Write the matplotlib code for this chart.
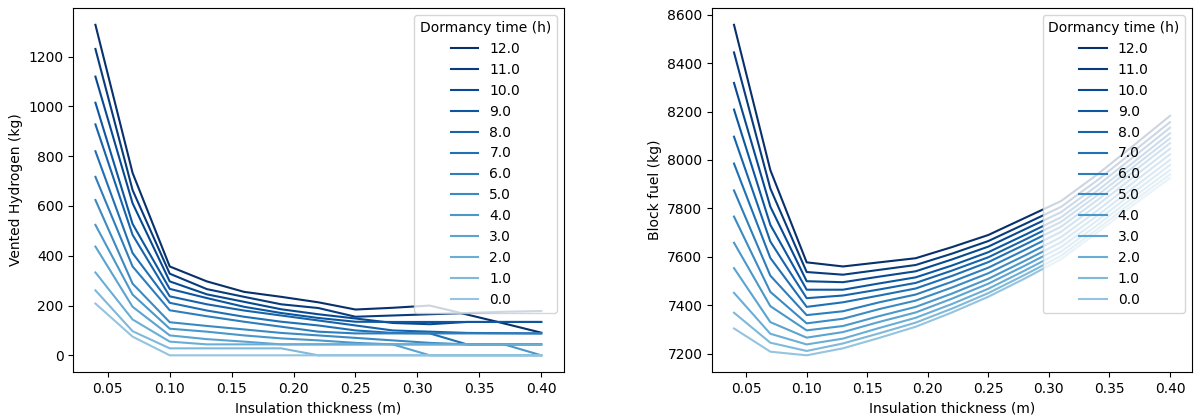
import numpy as np
import matplotlib
matplotlib.use('Agg')
import matplotlib.pyplot as plt

# insulation thickness (m)
thickness = [0.04, 0.07, 0.10, 0.13, 0.16, 0.19, 0.22, 0.25, 0.28, 0.31, 0.34, 0.37, 0.40]

# dormancy times (h), one curve each
dormancy = [0.0, 1.0, 2.0, 3.0, 4.0, 5.0, 6.0, 7.0, 8.0, 9.0, 10.0, 11.0, 12.0]

# vented hydrogen (kg), rows follow dormancy
vented = [
    [208, 75, 0, 0, 0, 0, 0, 0, 0, 0, 0, 0, 0],
    [261, 97, 28, 28, 28, 28, 0, 0, 0, 0, 0, 0, 0],
    [333, 144, 55, 44, 44, 44, 44, 44, 44, 44, 44, 44, 44],
    [437, 195, 80, 65, 55, 44, 44, 44, 44, 0, 0, 0, 0],
    [524, 244, 107, 95, 80, 68, 60, 50, 44, 44, 44, 44, 0],
    [624, 288, 133, 118, 104, 90, 80, 70, 60, 50, 44, 44, 44],
    [717, 357, 181, 157, 135, 115, 95, 88, 88, 88, 88, 88, 88],
    [820, 411, 211, 180, 155, 135, 120, 100, 90, 88, 44, 44, 44],
    [928, 484, 237, 205, 180, 160, 140, 120, 100, 95, 90, 89, 88],
    [1015, 528, 267, 230, 195, 170, 150, 135, 134, 134, 134, 134, 134],
    [1120, 611, 297, 245, 215, 185, 165, 148, 130, 125, 134, 134, 134],
    [1231, 664, 328, 266, 235, 205, 190, 155, 160, 165, 170, 175, 178],
    [1328, 733, 357, 297, 255, 235, 213, 184, 191, 200, 164, 128, 91],
]

# block fuel (kg), rows follow dormancy
fuel = [
    [7304, 7208, 7193, 7222, 7265, 7311, 7370, 7435, 7510, 7590, 7700, 7815, 7925],
    [7369, 7245, 7211, 7242, 7284, 7328, 7386, 7450, 7525, 7604, 7714, 7830, 7940],
    [7451, 7282, 7238, 7262, 7306, 7348, 7405, 7468, 7543, 7621, 7731, 7847, 7958],
    [7553, 7330, 7266, 7289, 7331, 7370, 7427, 7489, 7563, 7640, 7750, 7866, 7979],
    [7658, 7396, 7296, 7314, 7355, 7393, 7448, 7509, 7583, 7660, 7770, 7886, 8000],
    [7766, 7455, 7325, 7344, 7384, 7419, 7473, 7532, 7605, 7681, 7791, 7908, 8023],
    [7874, 7522, 7359, 7375, 7412, 7444, 7497, 7555, 7628, 7703, 7813, 7930, 8046],
    [7985, 7595, 7393, 7412, 7440, 7469, 7521, 7578, 7650, 7724, 7834, 7952, 8069],
    [8096, 7663, 7429, 7440, 7465, 7492, 7543, 7598, 7670, 7744, 7854, 7972, 8089],
    [8208, 7732, 7464, 7464, 7490, 7515, 7564, 7619, 7690, 7763, 7873, 7991, 8110],
    [8318, 7807, 7499, 7495, 7518, 7540, 7589, 7642, 7713, 7784, 7894, 8013, 8133],
    [8444, 7882, 7537, 7526, 7546, 7566, 7613, 7665, 7735, 7806, 7916, 8036, 8156],
    [8558, 7958, 7577, 7560, 7577, 7594, 7640, 7690, 7760, 7830, 7940, 8060, 8182],
]

colors = plt.cm.Blues(np.linspace(0.4, 1.0, len(dormancy)))

fig = plt.figure(figsize=(11.99, 4.15), dpi=100)
ax1 = fig.add_axes([0.061, 0.104, 0.409, 0.876])
ax2 = fig.add_axes([0.594, 0.104, 0.400, 0.876])

for ax, data, ylabel in [(ax1, vented, 'Vented Hydrogen (kg)'), (ax2, fuel, 'Block fuel (kg)')]:
    # plot longest dormancy first so the legend reads 12 -> 0
    for i in reversed(range(len(dormancy))):
        ax.plot(thickness, data[i], color=colors[i], label=str(dormancy[i]))
    ax.set_xlabel('Insulation thickness (m)')
    ax.set_ylabel(ylabel)
    ax.legend(title='Dormancy time (h)', loc='upper right')

fig.savefig('out.png', dpi=100)
